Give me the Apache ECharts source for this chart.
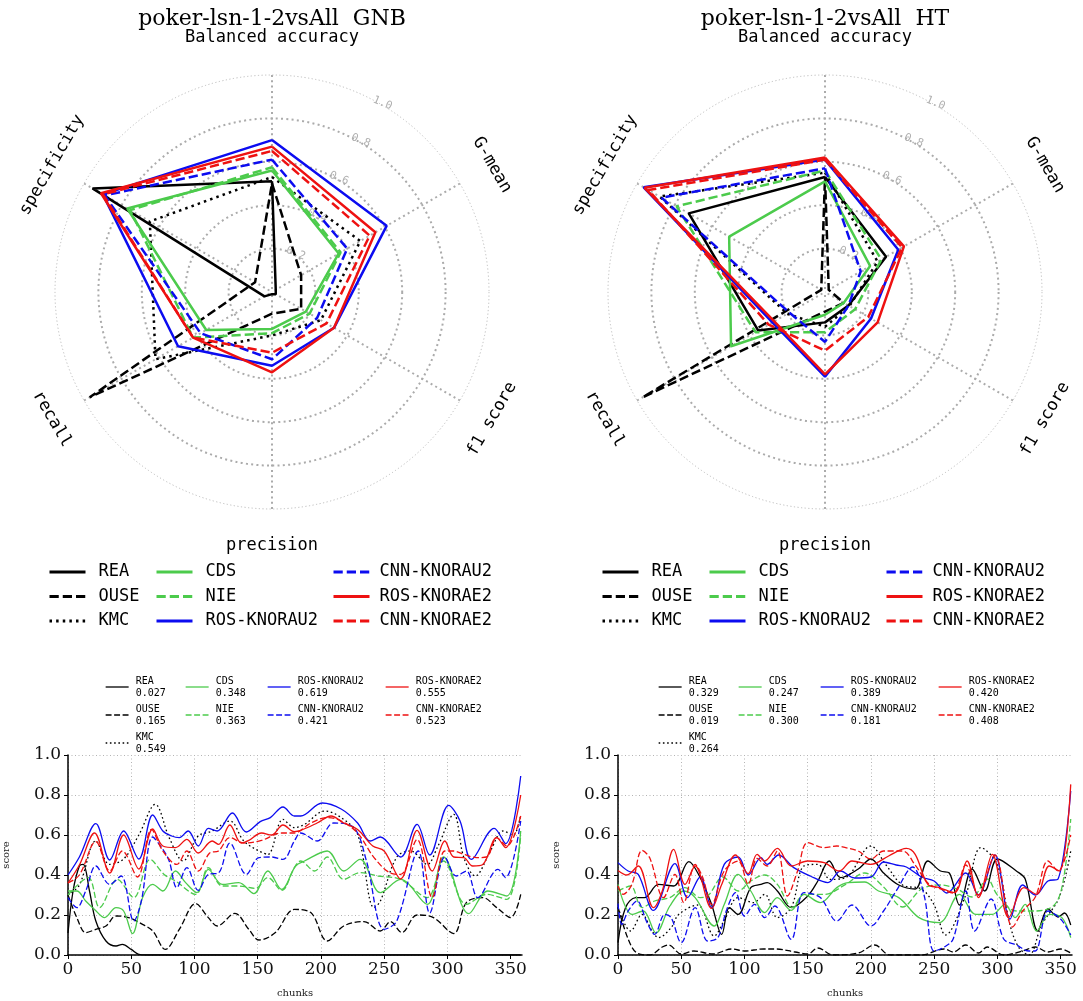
<!DOCTYPE html>
<html>
<head>
<meta charset="utf-8">
<script src="https://cdn.jsdelivr.net/npm/echarts@6/dist/echarts.min.js"></script>
<style>
  html, body { margin: 0; padding: 0; background: #fff; }
  #chart { width: 1083px; height: 1001px; }
</style>
</head>
<body>
<div id="chart"></div>
<script>
// ---- data -------------------------------------------------------------
const datasetName = 'poker-lsn-1-2vsAll';
const classifiers = ['GNB', 'HT'];
const methods = ['REA', 'OUSE', 'KMC', 'CDS', 'NIE', 'ROS-KNORAU2', 'CNN-KNORAU2', 'ROS-KNORAE2', 'CNN-KNORAE2'];
const metrics = ['Balanced accuracy', 'G-mean', 'f1 score', 'precision', 'recall', 'specificity'];
const radialTicks = [0.2, 0.4, 0.6, 0.8, 1.0];
const chunkTicks = [0, 50, 100, 150, 200, 250, 300, 350];

// radar scores, one row per method, columns follow `metrics`
const radarGNB = [
  [0.51, 0.02, 0.02, 0.01, 0.04, 0.955],
  [0.50, 0.155, 0.155, 0.10, 0.97, 0.09],
  [0.53, 0.47, 0.26, 0.20, 0.62, 0.65],
  [0.56, 0.355, 0.18, 0.17, 0.35, 0.77],
  [0.575, 0.365, 0.20, 0.19, 0.42, 0.755],
  [0.70, 0.61, 0.33, 0.34, 0.50, 0.90],
  [0.61, 0.40, 0.24, 0.31, 0.38, 0.89],
  [0.67, 0.55, 0.33, 0.37, 0.42, 0.91],
  [0.65, 0.52, 0.29, 0.28, 0.42, 0.90]
];
const radarHT = [
  [0.53, 0.325, 0.125, 0.14, 0.355, 0.725],
  [0.53, 0.02, 0.10, 0.09, 0.97, 0.02],
  [0.55, 0.28, 0.13, 0.16, 0.20, 0.88],
  [0.51, 0.24, 0.10, 0.105, 0.50, 0.51],
  [0.56, 0.30, 0.16, 0.185, 0.37, 0.79],
  [0.61, 0.39, 0.245, 0.39, 0.28, 0.965],
  [0.57, 0.19, 0.125, 0.23, 0.19, 0.87],
  [0.62, 0.42, 0.28, 0.38, 0.27, 0.96],
  [0.61, 0.41, 0.23, 0.27, 0.30, 0.94]
];

// mean balanced accuracy over all chunks
const meanGNB = ['0.027', '0.165', '0.549', '0.348', '0.363', '0.619', '0.421', '0.555', '0.523'];
const meanHT = ['0.329', '0.019', '0.264', '0.247', '0.300', '0.389', '0.181', '0.420', '0.408'];

// balanced accuracy per chunk, [chunk, score]
const gnbREA = [[0,0.11],[4,0.32],[9,0.445],[12,0.453],[17,0.32],[22,0.17],[30,0.07],[38,0.045],[43,0.053],[50,0.028],[56,0.003],[62,0],[100,0],[150,0],[200,0],[250,0],[300,0],[358,0]];
const gnbOUSE = [[0,0.30],[7,0.187],[14,0.112],[22,0.128],[30,0.145],[38,0.195],[48,0.187],[59,0.153],[67,0.12],[77,0.028],[88,0.128],[101,0.257],[111,0.187],[118,0.145],[132,0.208],[143,0.128],[151,0.075],[164,0.112],[179,0.228],[192,0.212],[205,0.07],[218,0.145],[234,0.167],[247,0.12],[255,0.167],[264,0.112],[276,0.20],[289,0.187],[305,0.107],[315,0.262],[328,0.287],[339,0.237],[350,0.187],[358,0.303]];
const gnbKMC = [[0,0.30],[9,0.35],[22,0.57],[33,0.453],[44,0.48],[56,0.60],[69,0.753],[80,0.587],[91,0.47],[103,0.595],[114,0.62],[128,0.67],[139,0.57],[151,0.52],[158,0.503],[170,0.678],[179,0.637],[187,0.653],[203,0.72],[216,0.687],[229,0.603],[242,0.237],[247,0.27],[260,0.49],[271,0.52],[284,0.453],[292,0.537],[305,0.703],[313,0.487],[322,0.395],[334,0.52],[344,0.62],[352,0.60],[358,0.70]];
const gnbCDS = [[0,0.32],[7,0.32],[14,0.27],[21,0.228],[29,0.187],[38,0.237],[44,0.22],[51,0.107],[59,0.287],[67,0.353],[75,0.32],[85,0.42],[93,0.362],[102,0.312],[111,0.428],[122,0.353],[135,0.362],[147,0.307],[158,0.42],[169,0.328],[180,0.445],[187,0.47],[205,0.52],[218,0.42],[231,0.478],[247,0.312],[263,0.378],[284,0.253],[297,0.49],[317,0.207],[332,0.32],[347,0.295],[358,0.62]];
const gnbNIE = [[0,0.30],[16,0.387],[25,0.237],[39,0.378],[52,0.287],[65,0.478],[76,0.403],[85,0.37],[101,0.303],[111,0.437],[122,0.345],[135,0.345],[148,0.333],[158,0.387],[169,0.323],[179,0.437],[184,0.47],[195,0.42],[205,0.49],[218,0.378],[231,0.412],[245,0.395],[263,0.378],[284,0.287],[297,0.47],[315,0.253],[331,0.303],[347,0.278],[358,0.60]];
const gnbROSU = [[0,0.40],[9,0.49],[22,0.657],[33,0.475],[44,0.62],[56,0.48],[67,0.70],[75,0.62],[82,0.595],[88,0.587],[95,0.62],[103,0.545],[111,0.633],[118,0.62],[130,0.71],[141,0.615],[152,0.667],[160,0.687],[170,0.74],[179,0.695],[184,0.695],[201,0.76],[216,0.73],[229,0.66],[239,0.57],[247,0.59],[263,0.49],[276,0.653],[286,0.50],[301,0.748],[310,0.67],[319,0.478],[337,0.633],[346,0.557],[358,0.895]];
const gnbCNNU = [[0,0.287],[7,0.237],[14,0.32],[22,0.445],[33,0.353],[42,0.395],[52,0.17],[58,0.27],[67,0.59],[75,0.528],[80,0.47],[86,0.337],[94,0.437],[103,0.323],[111,0.403],[119,0.41],[128,0.56],[141,0.403],[151,0.487],[161,0.49],[170,0.478],[179,0.57],[184,0.61],[197,0.57],[210,0.66],[226,0.637],[236,0.47],[250,0.128],[260,0.17],[277,0.52],[286,0.21],[298,0.49],[307,0.395],[315,0.42],[324,0.287],[340,0.428],[346,0.387],[358,0.67]];
const gnbROSE = [[0,0.36],[9,0.45],[21,0.61],[33,0.41],[44,0.60],[56,0.43],[67,0.63],[75,0.545],[85,0.537],[94,0.578],[103,0.51],[114,0.57],[119,0.553],[128,0.65],[137,0.56],[143,0.573],[153,0.61],[161,0.60],[170,0.65],[179,0.617],[184,0.623],[197,0.66],[208,0.695],[218,0.66],[229,0.628],[241,0.545],[250,0.52],[263,0.38],[276,0.623],[288,0.42],[298,0.57],[305,0.49],[313,0.487],[320,0.445],[328,0.453],[339,0.587],[346,0.537],[358,0.80]];
const gnbCNNE = [[0,0.36],[9,0.40],[22,0.567],[33,0.42],[43,0.52],[55,0.39],[66,0.628],[75,0.52],[86,0.453],[94,0.52],[103,0.42],[112,0.51],[119,0.52],[128,0.587],[139,0.56],[153,0.573],[169,0.61],[179,0.61],[192,0.66],[205,0.687],[216,0.67],[229,0.61],[242,0.487],[255,0.41],[263,0.403],[276,0.578],[288,0.287],[298,0.52],[305,0.52],[313,0.503],[323,0.487],[331,0.49],[339,0.587],[347,0.545],[358,0.695]];

const htREA = [[0,0.062],[6,0.237],[14,0.287],[21,0.287],[32,0.353],[44,0.345],[56,0.467],[65,0.387],[74,0.253],[82,0.103],[88,0.237],[95,0.203],[105,0.337],[113,0.353],[118,0.362],[126,0.32],[137,0.237],[150,0.295],[158,0.37],[167,0.47],[176,0.387],[190,0.43],[200,0.48],[210,0.41],[222,0.35],[235,0.33],[245,0.47],[255,0.42],[262,0.41],[270,0.25],[280,0.43],[290,0.32],[300,0.48],[315,0.42],[322,0.38],[332,0.12],[340,0.23],[348,0.19],[353,0.21],[358,0.15]];
const htOUSE = [[0,0.24],[8,0.08],[15,0.01],[25,0.0],[35,0.04],[40,0.05],[50,0.005],[60,0.02],[75,0.005],[90,0.03],[100,0.02],[115,0.03],[125,0.03],[140,0.015],[150,0.005],[158,0.035],[170,0.0],[190,0.01],[203,0.05],[215,0.0],[240,0.0],[258,0.03],[265,0.015],[275,0.05],[285,0.01],[292,0.04],[305,0.0],[320,0.02],[330,0.04],[340,0.015],[350,0.03],[358,0.01]];
const htKMC = [[0,0.237],[10,0.12],[19,0.203],[27,0.12],[32,0.087],[42,0.137],[48,0.203],[63,0.25],[76,0.095],[84,0.173],[95,0.287],[107,0.262],[116,0.303],[126,0.187],[137,0.237],[147,0.445],[158,0.453],[168,0.378],[180,0.387],[200,0.545],[212,0.45],[225,0.35],[240,0.33],[250,0.25],[259,0.10],[275,0.30],[287,0.537],[300,0.45],[310,0.15],[317,0.037],[325,0.0],[335,0.15],[349,0.29],[358,0.52]];
const htCDS = [[0,0.353],[11,0.203],[20,0.22],[30,0.11],[41,0.245],[52,0.32],[61,0.287],[76,0.145],[84,0.253],[95,0.403],[105,0.32],[116,0.212],[126,0.287],[137,0.223],[147,0.303],[160,0.262],[173,0.337],[182,0.362],[195,0.365],[206,0.32],[222,0.287],[238,0.187],[254,0.162],[270,0.303],[283,0.203],[296,0.203],[306,0.253],[314,0.187],[322,0.253],[331,0.12],[341,0.203],[351,0.187],[358,0.087]];
const htNIE = [[0,0.32],[10,0.345],[19,0.237],[29,0.27],[41,0.287],[53,0.337],[65,0.287],[71,0.295],[83,0.39],[95,0.32],[105,0.37],[116,0.40],[126,0.353],[138,0.237],[147,0.303],[163,0.303],[180,0.353],[195,0.41],[210,0.34],[225,0.24],[240,0.33],[255,0.35],[268,0.33],[280,0.29],[292,0.38],[300,0.30],[315,0.22],[330,0.22],[345,0.25],[352,0.37],[358,0.68]];
const htROSU = [[0,0.462],[8,0.42],[16,0.403],[28,0.223],[45,0.457],[55,0.287],[65,0.39],[74,0.237],[84,0.453],[95,0.49],[103,0.40],[113,0.487],[118,0.453],[127,0.50],[139,0.437],[152,0.395],[166,0.362],[176,0.42],[187,0.385],[200,0.39],[210,0.465],[220,0.45],[228,0.44],[240,0.39],[250,0.37],[260,0.31],[275,0.41],[285,0.30],[298,0.50],[310,0.18],[320,0.35],[330,0.30],[340,0.37],[348,0.38],[358,0.82]];
const htCNNU = [[0,0.257],[3,0.153],[8,0.22],[15,0.27],[23,0.162],[29,0.103],[37,0.203],[42,0.187],[50,0.062],[61,0.237],[71,0.07],[79,0.087],[86,0.228],[93,0.312],[100,0.195],[108,0.253],[116,0.187],[124,0.245],[137,0.078],[147,0.312],[160,0.287],[173,0.17],[185,0.25],[200,0.145],[210,0.22],[220,0.32],[233,0.44],[242,0.30],[250,0.02],[258,0.04],[265,0.08],[275,0.32],[282,0.12],[295,0.28],[305,0.08],[315,0.05],[325,0.02],[330,0.02],[340,0.22],[350,0.18],[358,0.10]];
const htROSE = [[0,0.423],[7,0.40],[16,0.445],[28,0.237],[35,0.32],[44,0.528],[53,0.353],[61,0.445],[74,0.233],[82,0.353],[93,0.50],[103,0.407],[110,0.503],[116,0.47],[126,0.533],[137,0.445],[150,0.47],[163,0.462],[175,0.42],[185,0.47],[200,0.453],[214,0.495],[228,0.533],[235,0.503],[245,0.353],[254,0.337],[266,0.312],[276,0.47],[285,0.287],[296,0.503],[309,0.187],[321,0.337],[331,0.303],[341,0.445],[349,0.42],[358,0.853]];
const htCNNE = [[0,0.345],[4,0.303],[11,0.353],[19,0.523],[25,0.487],[36,0.287],[45,0.403],[52,0.262],[61,0.453],[67,0.387],[74,0.253],[84,0.42],[95,0.47],[103,0.353],[110,0.483],[118,0.445],[126,0.52],[134,0.295],[142,0.42],[150,0.562],[163,0.537],[173,0.545],[180,0.537],[190,0.52],[200,0.48],[210,0.52],[225,0.52],[235,0.45],[245,0.36],[255,0.33],[265,0.31],[275,0.45],[285,0.30],[298,0.50],[312,0.14],[320,0.22],[330,0.29],[340,0.47],[348,0.42],[358,0.60]];

const curvesGNB = [gnbREA, gnbOUSE, gnbKMC, gnbCDS, gnbNIE, gnbROSU, gnbCNNU, gnbROSE, gnbCNNE];
const curvesHT = [htREA, htOUSE, htKMC, htCDS, htNIE, htROSU, htCNNU, htROSE, htCNNE];

// ---- styling ----------------------------------------------------------
const BLACK = '#000000', GREEN = '#4ccb4c', BLUE = '#0c0cf0', RED = '#ee1111';
const methodColor = [BLACK, BLACK, BLACK, GREEN, GREEN, BLUE, BLUE, RED, RED];
const methodKind = ['solid', 'dashed', 'dotted', 'solid', 'dashed', 'solid', 'dashed', 'solid', 'dashed'];
const MONO = 'DejaVu Sans Mono';
const SERIF = 'DejaVu Serif';

function dash(kind, w) {
  if (kind === 'dashed') return [3.7 * w, 1.6 * w];
  if (kind === 'dotted') return [1 * w, 1.65 * w];
  return 'solid';
}

// polar layout of the two radar panels
const R = 217;
const centers = [[272, 292], [825, 292]];
const NAME_R = 254;
const nameRotation = [0, -60, 60, 0, -60, 60];
const radarW = 2.5;
const lineW = 1.3;

const option = {
  animation: false,
  backgroundColor: '#ffffff',
  polar: centers.map(c => ({ center: c, radius: R })),
  angleAxis: centers.map((c, i) => ({
    polarIndex: i, type: 'value', min: 0, max: 360, interval: 60,
    startAngle: 90, clockwise: true,
    axisLine: { show: true, lineStyle: { color: '#bdbdbd', width: 1, type: [1.2, 2.4] } },
    axisTick: { show: false }, axisLabel: { show: false },
    splitLine: { show: true, lineStyle: { color: '#ababab', width: 2, type: [2, 3.3] } }
  })),
  radiusAxis: centers.map((c, i) => ({
    polarIndex: i, type: 'value', min: 0, max: 1, interval: 0.2,
    axisLine: { show: false }, axisTick: { show: false }, axisLabel: { show: false },
    splitLine: { show: true, lineStyle: { color: ['#ababab', '#ababab', '#ababab', '#ababab', '#ababab', 'rgba(0,0,0,0)'], width: 2, type: [2, 3.3] } }
  })),
  grid: [
    { left: 65, top: 755, width: 457, height: 200 },
    { left: 618, top: 755, width: 454, height: 200 }
  ],
  xAxis: [0, 1].map(i => ({
    gridIndex: i, type: 'value', min: 0, max: 359, interval: 50,
    name: 'chunks', nameLocation: 'middle', nameGap: 33,
    nameTextStyle: { fontFamily: SERIF, fontSize: 10, color: '#222' },
    axisLine: { show: true, onZero: false, lineStyle: { color: '#000', width: 1.5 } },
    axisTick: { show: true, length: 4, lineStyle: { color: '#000', width: 1 }, customValues: chunkTicks },
    axisLabel: { fontFamily: SERIF, fontSize: 17, color: '#111', margin: 6, customValues: chunkTicks },
    splitLine: { show: true, showMaxLine: false, lineStyle: { color: '#b4b4b4', width: 1, type: [1, 2.5] } }
  })),
  yAxis: [0, 1].map(i => ({
    gridIndex: i, type: 'value', min: 0, max: 1, interval: 0.2,
    name: 'score', nameLocation: 'middle', nameGap: 57,
    nameTextStyle: { fontFamily: SERIF, fontSize: 10, color: '#222' },
    axisLine: { show: true, lineStyle: { color: '#000', width: 1.5 } },
    axisTick: { show: true, length: 4, lineStyle: { color: '#000', width: 1 } },
    axisLabel: { fontFamily: SERIF, fontSize: 17, color: '#111', margin: 7, formatter: v => v.toFixed(1) },
    splitLine: { show: true, lineStyle: { color: '#b4b4b4', width: 1, type: [1, 2.5] } }
  })),
  legend: [],
  graphic: { elements: [] },
  series: []
};

// radar polygons
[radarGNB, radarHT].forEach((table, pi) => {
  table.forEach((row, mi) => {
    const closed = row.concat([row[0]]);
    option.series.push({
      type: 'line', name: methods[mi], coordinateSystem: 'polar', polarIndex: pi,
      data: closed.map((v, k) => [v, k * 60]),
      symbol: 'none', smooth: false, silent: true,
      lineStyle: { color: methodColor[mi], width: radarW, type: dash(methodKind[mi], radarW) },
      z: 3
    });
  });
});

// per-chunk curves
[curvesGNB, curvesHT].forEach((curves, gi) => {
  curves.forEach((pts, mi) => {
    option.series.push({
      type: 'line', name: methods[mi], xAxisIndex: gi, yAxisIndex: gi,
      data: pts, symbol: 'none', smooth: 0.35, silent: true,
      lineStyle: { color: methodColor[mi], width: lineW, type: dash(methodKind[mi], lineW * 1.25) },
      z: 3
    });
  });
});

// legends under the radar panels (3 columns, filled top to bottom)
const radarCols = [[0, 1, 2], [3, 4, 5], [6, 7, 8]];
const radarColX = [43, 150, 327];
const radarTextPad = [8, 8, 5];
// legends above the per-chunk panels (4 columns)
const lineCols = [[0, 1, 2], [3, 4], [5, 6], [7, 8]];
const lineColX = [100, 180, 262, 380];

centers.forEach((c, pi) => {
  const dx = c[0] - centers[0][0];
  radarCols.forEach((col, ci) => {
    option.legend.push({
      orient: 'vertical', left: radarColX[ci] + dx, top: 557, itemGap: 4.5,
      itemWidth: 36, itemHeight: 14, selectedMode: false,
      textStyle: { fontFamily: MONO, fontSize: 17, color: '#000', lineHeight: 20, padding: [0, 0, 0, radarTextPad[ci]] },
      data: col.map(mi => ({
        name: methods[mi],
        lineStyle: { color: methodColor[mi], width: 3, type: dash(methodKind[mi], 2.5), opacity: 1 },
        itemStyle: { opacity: 0 }
      }))
    });
  });
  const means = pi === 0 ? meanGNB : meanHT;
  lineCols.forEach((col, ci) => {
    option.legend.push({
      orient: 'vertical', left: lineColX[ci] + dx, top: 670, itemGap: 4,
      itemWidth: 23, itemHeight: 10, selectedMode: false,
      formatter: name => name + '\n' + means[methods.indexOf(name)],
      textStyle: { fontFamily: MONO, fontSize: 10, color: '#000', lineHeight: 12, padding: [0, 0, 0, 2] },
      data: col.map(mi => ({
        name: methods[mi],
        lineStyle: { color: methodColor[mi], width: 1.3, type: dash(methodKind[mi], 1.6), opacity: 1 },
        itemStyle: { opacity: 0 }
      }))
    });
  });
});

// titles, metric names and radial tick labels of the radar panels
centers.forEach((c, pi) => {
  const [cx, cy] = c;
  option.graphic.elements.push({
    type: 'text', x: cx, y: 19, z: 10,
    style: { text: datasetName + '  ' + classifiers[pi], fontFamily: SERIF, fontSize: 22, fill: '#000', align: 'center', verticalAlign: 'middle' }
  });
  metrics.forEach((m, k) => {
    const a = (90 - k * 60) * Math.PI / 180;
    option.graphic.elements.push({
      type: 'text', x: cx + NAME_R * Math.cos(a), y: cy - NAME_R * Math.sin(a),
      rotation: nameRotation[k] * Math.PI / 180, z: 10,
      style: { text: m, fontFamily: MONO, fontSize: 17, fill: '#000', align: 'center', verticalAlign: 'middle' }
    });
  });
  const la = 60 * Math.PI / 180;
  radialTicks.forEach(v => {
    option.graphic.elements.push({
      type: 'text', x: cx + v * R * Math.cos(la) + 2, y: cy - v * R * Math.sin(la) - 1,
      rotation: -22 * Math.PI / 180, z: 1, zlevel: 0,
      style: { text: v.toFixed(1), fontFamily: MONO, fontSize: 11, fill: '#b0b0b0', align: 'center', verticalAlign: 'middle' }
    });
  });
});

const chart = echarts.init(document.getElementById('chart'), null, { renderer: 'canvas' });
chart.setOption(option);
</script>
</body>
</html>
